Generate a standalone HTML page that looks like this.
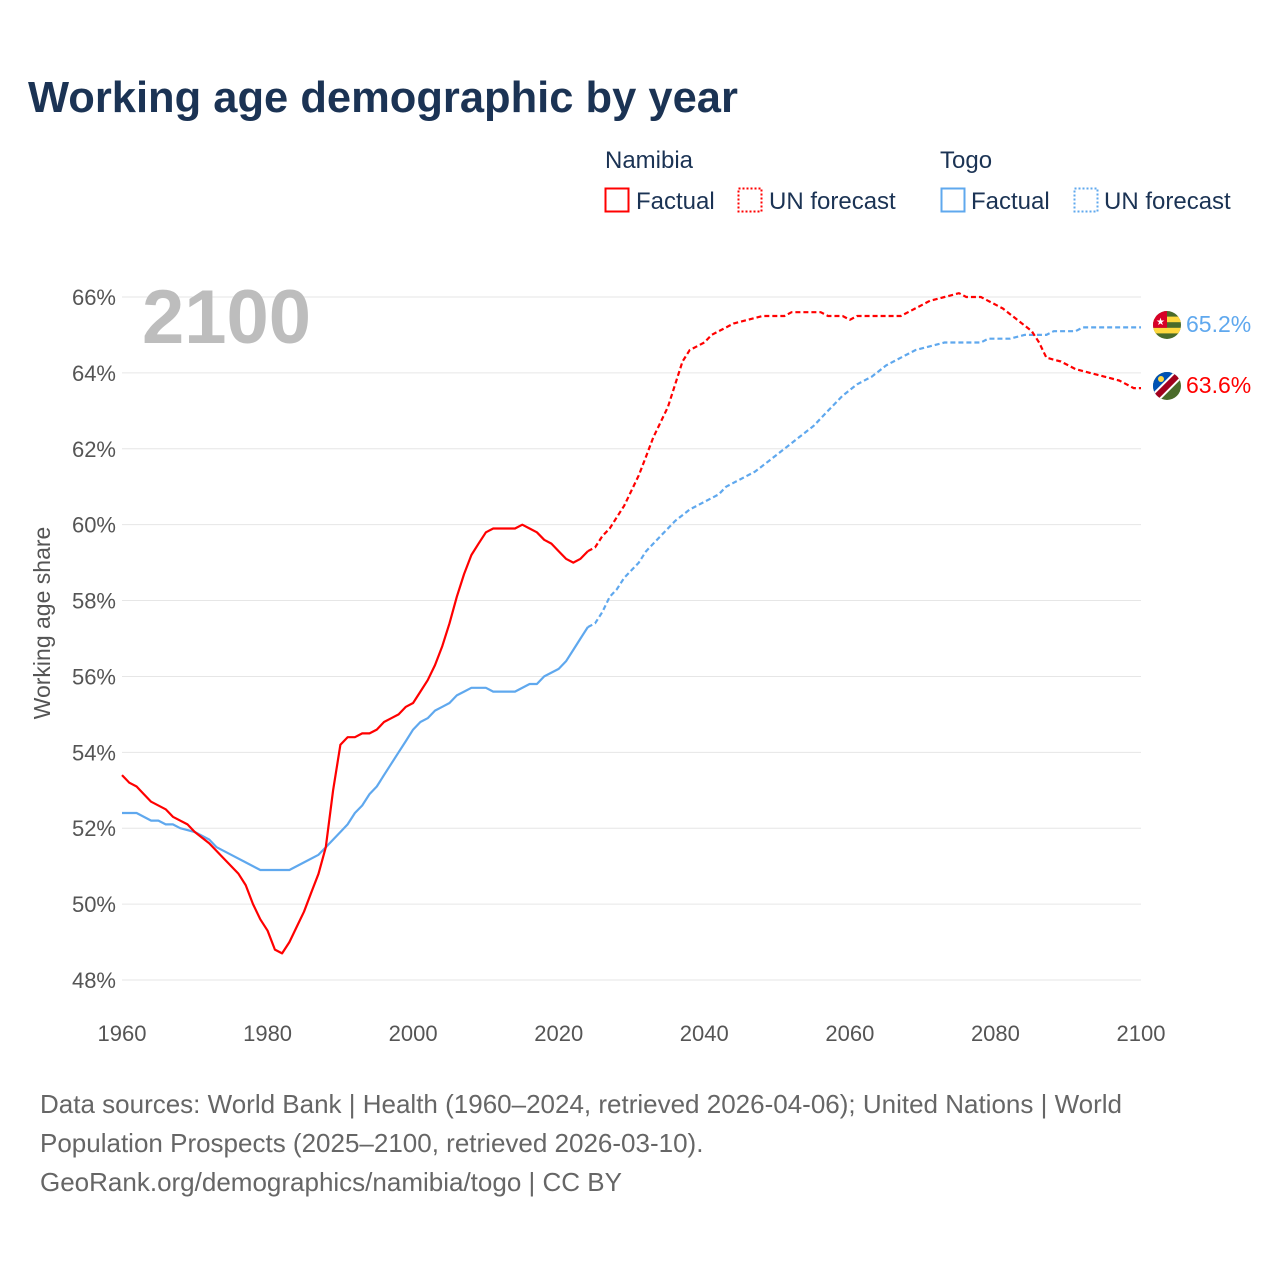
<!DOCTYPE html>
<html><head><meta charset="utf-8"><style>
body{margin:0;background:#fff;width:1280px;height:1280px;overflow:hidden;font-family:"Liberation Sans",sans-serif}
</style></head><body>
<svg id="chart" width="1280" height="1280" xmlns="http://www.w3.org/2000/svg" font-family="Liberation Sans, sans-serif">
<text x="28" y="112" font-size="43.5" font-weight="bold" fill="#1b3354">Working age demographic by year</text>
<g font-size="24" fill="#1b3354">
<text x="605" y="168">Namibia</text>
<rect x="605.5" y="188.5" width="23" height="23" fill="none" stroke="#ff0000" stroke-width="2"/>
<text x="636" y="209">Factual</text>
<rect x="738.5" y="188.5" width="23" height="23" fill="none" stroke="#ff0000" stroke-width="2" stroke-dasharray="2,2"/>
<text x="769" y="209">UN forecast</text>
<text x="940" y="168">Togo</text>
<rect x="941.5" y="188.5" width="23" height="23" fill="none" stroke="#5fa8ee" stroke-width="2"/>
<text x="971" y="209">Factual</text>
<rect x="1074.5" y="188.5" width="23" height="23" fill="none" stroke="#5fa8ee" stroke-width="2" stroke-dasharray="2,2"/>
<text x="1104" y="209">UN forecast</text>
</g>
<g id="grid"></g>
<g id="axes" font-size="22" fill="#555"></g>
<text x="142" y="343" font-size="76" font-weight="bold" fill="#bdbdbd">2100</text>
<text transform="translate(50,623) rotate(-90)" text-anchor="middle" font-size="23" fill="#555">Working age share</text>
<g id="series"></g>
<g>
<g>
<clipPath id="ct"><circle cx="1167" cy="325" r="14"/></clipPath>
<g clip-path="url(#ct)">
<rect x="1153" y="311" width="28" height="28" fill="#4a6b2a"/>
<rect x="1153" y="316.6" width="28" height="5.6" fill="#ffd83d"/>
<rect x="1153" y="327.8" width="28" height="5.6" fill="#ffd83d"/>
<rect x="1153" y="311" width="14" height="16.8" fill="#d80027"/>
<text x="1156" y="325" font-size="10" fill="#fff">★</text>
</g></g>
<g>
<clipPath id="cn"><circle cx="1167" cy="386" r="14"/></clipPath>
<g clip-path="url(#cn)">
<rect x="1153" y="372" width="28" height="28" fill="#4a6b2a"/>
<polygon points="1153,372 1181,372 1153,400" fill="#0052b4"/>
<line x1="1184" y1="369" x2="1150" y2="403" stroke="#fff" stroke-width="10"/>
<line x1="1184" y1="369" x2="1150" y2="403" stroke="#a2001d" stroke-width="6"/>
<circle cx="1161" cy="379" r="3" fill="#ffda44"/>
</g></g>
<text x="1186" y="332" font-size="23" fill="#5fa8ee">65.2%</text>
<text x="1186" y="393" font-size="23" fill="#ff0000">63.6%</text>
</g>
<g font-size="26" fill="#666">
<text x="40" y="1113">Data sources: World Bank | Health (1960–2024, retrieved 2026-04-06); United Nations | World</text>
<text x="40" y="1152">Population Prospects (2025–2100, retrieved 2026-03-10).</text>
<text x="40" y="1191">GeoRank.org/demographics/namibia/togo | CC BY</text>
</g>
</svg>
<script>
const yTicks=[48,50,52,54,56,58,60,62,64,66];
const xTicks=[1960,1980,2000,2020,2040,2060,2080,2100];
const namFactYears=[1960,1961,1962,1963,1964,1966,1967,1969,1970,1972,1974,1976,1977,1978,1979,1980,1981,1982,1983,1984,1985,1986,1987,1988,1989,1990,1991,1992,1993,1994,1995,1996,1997,1998,1999,2000,2001,2002,2003,2004,2005,2006,2007,2008,2009,2010,2011,2014,2015,2016,2017,2018,2019,2020,2021,2022,2023,2024];
const namFactVals=[53.4,53.2,53.1,52.9,52.7,52.5,52.3,52.1,51.9,51.6,51.2,50.8,50.5,50.0,49.6,49.3,48.8,48.7,49.0,49.4,49.8,50.3,50.8,51.5,53.0,54.2,54.4,54.4,54.5,54.5,54.6,54.8,54.9,55.0,55.2,55.3,55.6,55.9,56.3,56.8,57.4,58.1,58.7,59.2,59.5,59.8,59.9,59.9,60.0,59.9,59.8,59.6,59.5,59.3,59.1,59.0,59.1,59.3];
const namFcYears=[2024,2025,2026,2027,2028,2029,2030,2031,2032,2033,2034,2035,2036,2037,2038,2039,2040,2041,2042,2043,2044,2046,2048,2051,2052,2056,2057,2059,2060,2061,2067,2069,2071,2073,2075,2076,2078,2079,2081,2083,2085,2086,2087,2089,2091,2093,2095,2097,2099,2100];
const namFcVals=[59.3,59.4,59.7,59.9,60.2,60.5,60.9,61.3,61.8,62.3,62.7,63.1,63.7,64.3,64.6,64.7,64.8,65.0,65.1,65.2,65.3,65.4,65.5,65.5,65.6,65.6,65.5,65.5,65.4,65.5,65.5,65.7,65.9,66.0,66.1,66.0,66.0,65.9,65.7,65.4,65.1,64.8,64.4,64.3,64.1,64.0,63.9,63.8,63.6,63.6];
const togFactYears=[1960,1962,1964,1965,1966,1967,1968,1970,1972,1973,1975,1977,1979,1983,1985,1987,1988,1990,1991,1992,1993,1994,1995,1996,1997,1998,1999,2000,2001,2002,2003,2004,2005,2006,2007,2008,2010,2011,2014,2016,2017,2018,2020,2021,2022,2023,2024];
const togFactVals=[52.4,52.4,52.2,52.2,52.1,52.1,52.0,51.9,51.7,51.5,51.3,51.1,50.9,50.9,51.1,51.3,51.5,51.9,52.1,52.4,52.6,52.9,53.1,53.4,53.7,54.0,54.3,54.6,54.8,54.9,55.1,55.2,55.3,55.5,55.6,55.7,55.7,55.6,55.6,55.8,55.8,56.0,56.2,56.4,56.7,57.0,57.3];
const togFcYears=[2024,2025,2026,2027,2028,2029,2031,2032,2034,2036,2038,2040,2042,2043,2045,2047,2049,2051,2053,2055,2057,2059,2061,2063,2065,2067,2069,2071,2073,2078,2079,2082,2084,2087,2088,2091,2092,2100];
const togFcVals=[57.3,57.4,57.7,58.1,58.3,58.6,59.0,59.3,59.7,60.1,60.4,60.6,60.8,61.0,61.2,61.4,61.7,62.0,62.3,62.6,63.0,63.4,63.7,63.9,64.2,64.4,64.6,64.7,64.8,64.8,64.9,64.9,65.0,65.0,65.1,65.1,65.2,65.2];

const NS='http://www.w3.org/2000/svg';
const X0=122,X1=1141,Y0=980,Y1=297;
function xs(y){return X0+(y-1960)/(2100-1960)*(X1-X0);}
function ys(v){return Y0-(v-48)/(66-48)*(Y0-Y1);}
const grid=document.getElementById('grid'),axes=document.getElementById('axes'),series=document.getElementById('series');
yTicks.forEach(t=>{
  const l=document.createElementNS(NS,'line');
  
  
  l.setAttribute('x1',X0);l.setAttribute('x2',X1);l.setAttribute('y1',ys(t));l.setAttribute('y2',ys(t));
  l.setAttribute('stroke','#e6e6e6');l.setAttribute('stroke-width','1');
  grid.appendChild(l);
  const tx=document.createElementNS(NS,'text');
  
  
  tx.setAttribute('x',116);tx.setAttribute('y',ys(t)+8);tx.setAttribute('text-anchor','end');
  tx.textContent=t+'%';axes.appendChild(tx);
});
xTicks.forEach(t=>{
  const tx=document.createElementNS(NS,'text');
  
  
  tx.setAttribute('x',xs(t));tx.setAttribute('y',1041);tx.setAttribute('text-anchor','middle');
  tx.textContent=t;axes.appendChild(tx);
});
function line(yrs,vals,color,dash,name){
  const p=document.createElementNS(NS,'polyline');
  
  
  p.setAttribute('points',yrs.map((y,i)=>xs(y).toFixed(1)+','+ys(vals[i]).toFixed(1)).join(' '));
  p.setAttribute('fill','none');p.setAttribute('stroke',color);p.setAttribute('stroke-width','2.2');
  p.setAttribute('stroke-linejoin','round');
  if(dash)p.setAttribute('stroke-dasharray','5,3');
  series.appendChild(p);
}
line(togFactYears,togFactVals,'#5fa8ee',false,'togo-factual-line');
line(togFcYears,togFcVals,'#5fa8ee',true,'togo-forecast-line');
line(namFactYears,namFactVals,'#ff0000',false,'namibia-factual-line');
line(namFcYears,namFcVals,'#ff0000',true,'namibia-forecast-line');
</script>
</body></html>
